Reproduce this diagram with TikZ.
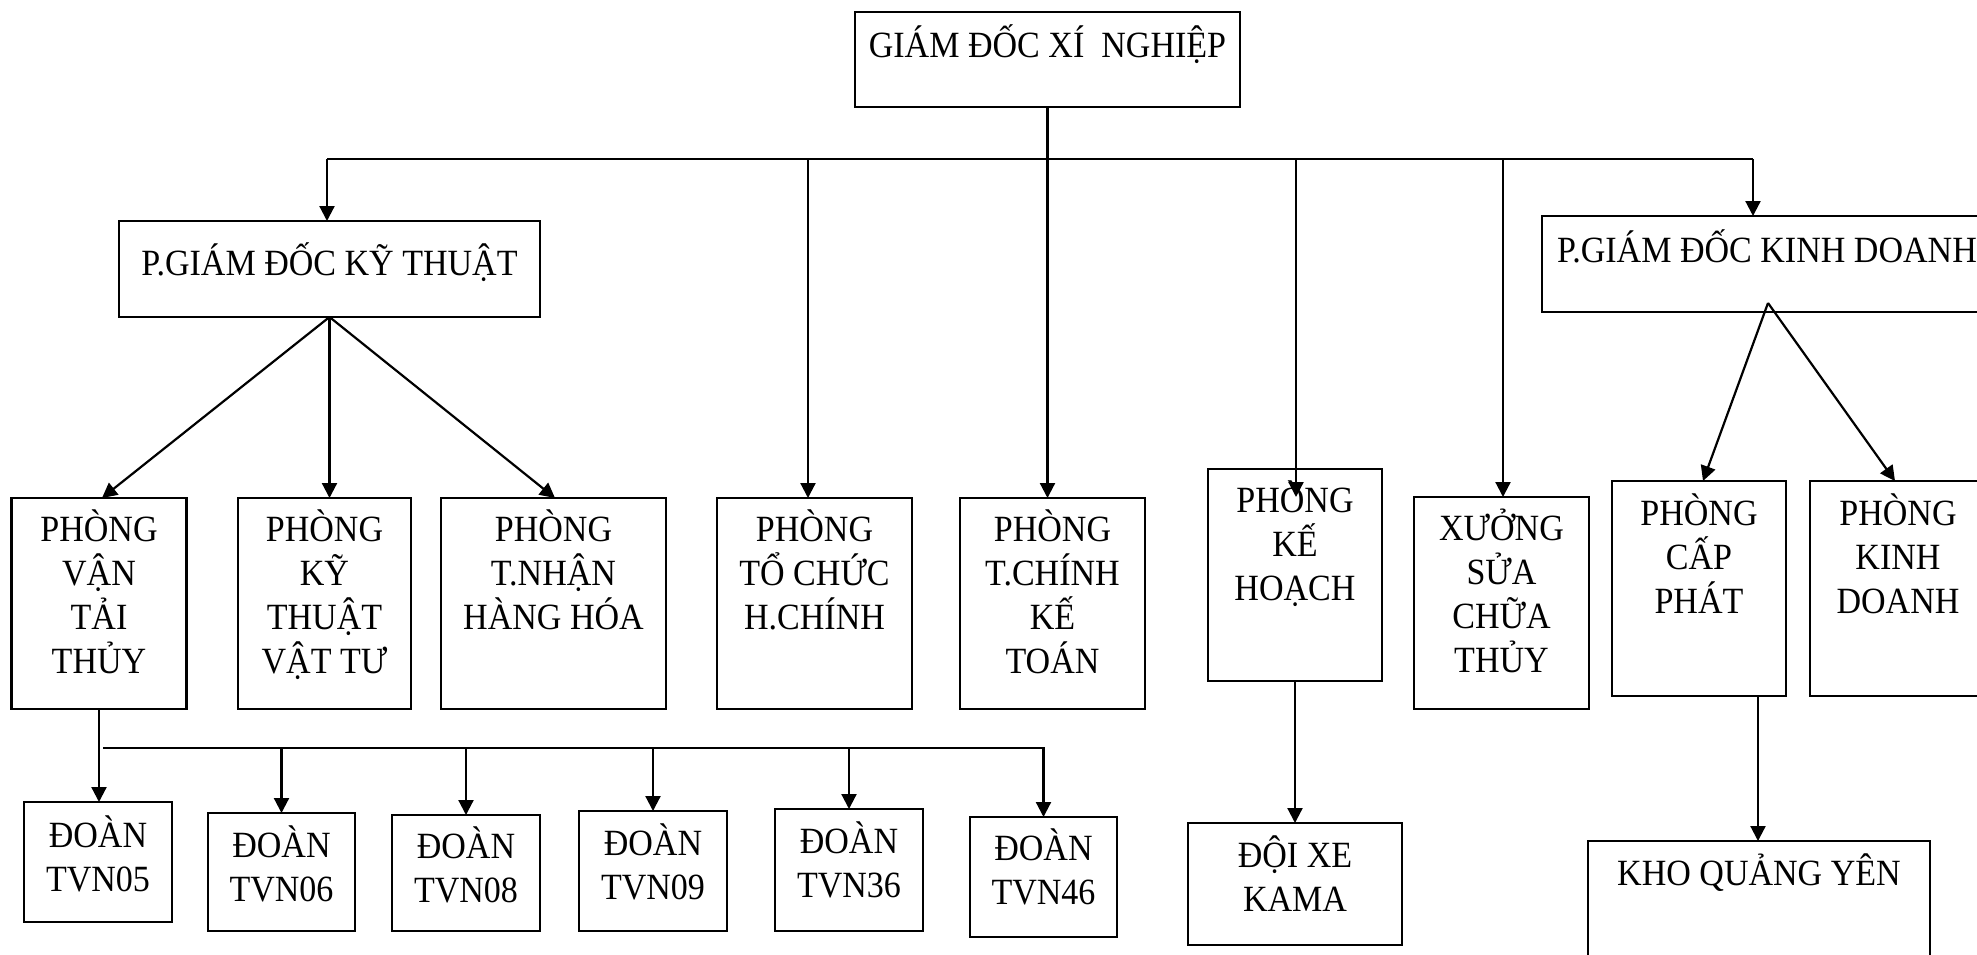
\documentclass[tikz,border=0pt]{standalone}
\usepackage{fontspec}
\setmainfont{Liberation Serif}[FakeStretch=0.92]
\usetikzlibrary{arrows.meta,calc}
\newcommand\bt[4]{\parbox[c][\dimexpr#2pt/2\relax][t]{\dimexpr#1pt/2\relax}{\centering\fontsize{18.5pt}{22pt}\selectfont\rule{0pt}{\dimexpr#3pt/2\relax}#4}}
\begin{document}
\begin{tikzpicture}[x=0.5pt,y=-0.5pt,
  box/.style={draw,line width=1.1pt,inner sep=0pt,outer sep=0pt},
  ln/.style={line width=1.1pt},
  arr/.style={line width=1.1pt,-{Triangle[length=7.5pt,width=7.5pt]}}]
\useasboundingbox (0,0) rectangle (1977,954);
\clip (0,0) rectangle (1977,954);
\fill[white] (0,0) rectangle (1977,954);
% level 0
\node[box] (gd) at (1047.5,59.5) {\bt{385}{95}{45}{GIÁM ĐỐC XÍ~ NGHIỆP}};
% level 1
\node[box] (kt) at (329.5,269) {\bt{421}{96}{54}{P.GIÁM ĐỐC KỸ THUẬT}};
\node[box] (kd) at (1767,264) {\bt{450}{96}{46}{P.GIÁM ĐỐC KINH DOANH}};
% level 2
\node[box] (vtt) at (99,603.5) {\bt{175}{211}{43}{PHÒNG\\VẬN\\TẢI\\THỦY}};
\node[box] (ktvt) at (324.5,603.5) {\bt{173}{211}{43}{PHÒNG\\KỸ\\THUẬT\\VẬT TƯ}};
\node[box] (tnhh) at (553.5,603.5) {\bt{225}{211}{43}{PHÒNG\\T.NHẬN\\HÀNG HÓA}};
\node[box] (tchc) at (814.5,603.5) {\bt{195}{211}{43}{PHÒNG\\TỔ CHỨC\\H.CHÍNH}};
\node[box] (tckt) at (1052.5,603.5) {\bt{185}{211}{43}{PHÒNG\\T.CHÍNH\\KẾ\\TOÁN}};
\node[box] (kh) at (1295,575) {\bt{174}{212}{43}{PHÒNG\\KẾ\\HOẠCH}};
\node[box] (xuong) at (1501.5,603) {\bt{175}{212}{43}{XƯỞNG\\SỬA\\CHỮA\\THỦY}};
\node[box] (cp) at (1699,588.5) {\bt{174}{215}{44}{PHÒNG\\CẤP\\PHÁT}};
\node[box] (kdp) at (1898,588.5) {\bt{176}{215}{44}{PHÒNG\\KINH\\DOANH}};
% level 3
\node[box] (d05) at (98,862) {\bt{148}{120}{45}{ĐOÀN\\TVN05}};
\node[box] (d06) at (281.5,872) {\bt{147}{118}{44}{ĐOÀN\\TVN06}};
\node[box] (d08) at (466,873) {\bt{148}{116}{43}{ĐOÀN\\TVN08}};
\node[box] (d09) at (653,871) {\bt{148}{120}{44}{ĐOÀN\\TVN09}};
\node[box] (d36) at (849,870) {\bt{148}{122}{44}{ĐOÀN\\TVN36}};
\node[box] (d46) at (1043.5,877) {\bt{147}{120}{43}{ĐOÀN\\TVN46}};
\node[box] (xe) at (1295,884) {\bt{214}{122}{44}{ĐỘI XE\\KAMA}};
\node[box] (kho) at (1759,920.5) {\bt{342}{159}{44}{KHO QUẢNG YÊN}};
% top bus
\coordinate (b1) at (327,159);
\coordinate (b2) at (808,159);
\coordinate (b4) at (1296,159);
\coordinate (b5) at (1503,159);
\coordinate (b6) at (1753,159);
\draw[ln] (b1) -- (b6);
\draw[arr] (b1) -- (b1 |- kt.north);
\draw[arr] (b2) -- (b2 |- tchc.north);
\draw[arr] (gd.south) -- (gd.south |- tckt.north);
\draw[arr] (b4) -- ($(kh.north)+(1,28)$);
\draw[arr] (b5) -- (b5 |- xuong.north);
\draw[arr] (b6) -- (b6 |- kd.north);
% from P.GD ky thuat
\draw[arr] (kt.south) -- ($(vtt.north)+(3,0)$);
\draw[arr] (kt.south) -- (kt.south |- ktvt.north);
\draw[arr] (kt.south) -- ($(tnhh.north)+(1.5,0)$);
% doan bus
\draw[arr] (vtt.south) -- (vtt.south |- d05.north);
\coordinate (db1) at (103,748);
\draw[arr] (db1) -| (d46.north);
\draw[arr] (d06.north |- db1) -- (d06.north);
\draw[arr] (d08.north |- db1) -- (d08.north);
\draw[arr] (d09.north |- db1) -- (d09.north);
\draw[arr] (d36.north |- db1) -- (d36.north);
% ke hoach
\draw[arr] (kh.south) -- (kh.south |- xe.north);
% P.GD kinh doanh
\coordinate (kda) at (1768,303);
\draw[arr] (kda) -- ($(cp.north)+(4,0)$);
\draw[arr] (kda) -- ($(kdp.north)+(-3,0)$);
\coordinate (cpo) at (1758,696);
\draw[arr] (cpo) -- (cpo |- kho.north);
\end{tikzpicture}
\end{document}
